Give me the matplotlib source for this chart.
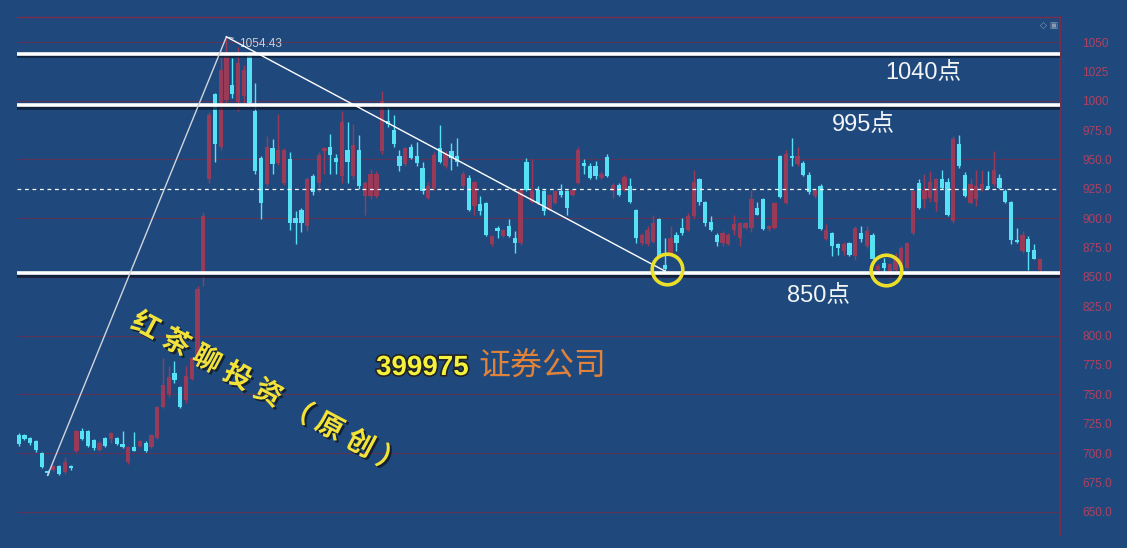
import matplotlib
matplotlib.use('Agg')
import matplotlib.pyplot as plt
import matplotlib.patheffects as pe
from matplotlib.ticker import FixedLocator, FuncFormatter

plt.rcParams['font.family'] = ['Liberation Sans', 'Noto Sans CJK SC', 'DejaVu Sans']

# daily candles (open / high / low / close)
opens = [715, 715, 713, 710, 700, 685, 686, 689, 684, 689,
         702, 719, 719, 711, 703, 713, 712, 713, 708, 692,
         705, 706, 709, 705, 713, 739, 750, 768, 756, 745,
         763, 783, 852, 933, 1006, 961, 1001, 1013, 999, 1004,
         1038, 991, 951, 929, 960, 947, 930, 950, 900, 907,
         893, 936, 930, 957, 961, 951, 936, 958, 936, 958,
         919, 919, 919, 957, 983, 975, 953, 946, 961, 953,
         943, 917, 926, 960, 944, 957, 953, 927, 934, 910,
         912, 913, 878, 892, 885, 893, 883, 879, 948, 914,
         924, 923, 907, 913, 923, 923, 920, 930, 947, 944,
         944, 934, 952, 923, 928, 924, 927, 907, 879, 878,
         880, 899, 860, 869, 886, 892, 890, 902, 933, 914,
         897, 886, 879, 878, 890, 883, 892, 892, 909, 916,
         891, 892, 953, 913, 953, 946, 947, 937, 919, 927,
         882, 887, 878, 872, 879, 868, 887, 876, 886, 856,
         862, 855, 856, 859, 858, 887, 930, 916, 917, 914,
         933, 931, 898, 963, 937, 913, 916, 925, 927, 929,
         934, 923, 914, 881, 872, 882, 873, 856]
highs = [717, 716, 714, 711, 701, 686, 690, 690, 697, 690,
         720, 721, 720, 712, 710, 714, 718, 714, 719, 706,
         718, 711, 710, 716, 740, 781, 774, 778, 757, 774,
         782, 842, 905, 990, 1007, 1043, 1054.43, 1036, 1046, 1030,
         1040, 1015, 953, 970, 967, 989, 960, 956, 906, 909,
         935, 938, 956, 961, 972, 955, 991, 982, 980, 971,
         932, 942, 940, 1008, 995, 988, 958, 961, 963, 965,
         948, 931, 956, 979, 957, 964, 968, 940, 937, 932,
         919, 914, 886, 893, 891, 899, 889, 925, 951, 950,
         927, 924, 921, 924, 929, 924, 925, 961, 950, 947,
         949, 940, 955, 930, 930, 937, 934, 908, 887, 893,
         903, 900, 883, 893, 888, 900, 904, 941, 934, 915,
         902, 887, 889, 887, 903, 897, 897, 924, 914, 917,
         894, 914, 954, 958, 968, 961, 949, 939, 926, 929,
         895, 888, 879, 880, 880, 893, 893, 893, 887, 861,
         866, 862, 870, 876, 880, 924, 933, 938, 940, 934,
         941, 934, 970, 971, 939, 934, 941, 941, 940, 957,
         938, 925, 915, 892, 889, 885, 878, 866]
lows = [706, 711, 707, 701, 687, 681, 685, 681, 682, 686,
        701, 711, 705, 703, 702, 705, 709, 707, 704, 691,
        702, 705, 701, 704, 712, 738, 748, 760, 738, 743,
        762, 781, 842, 930, 948, 958, 998, 1002, 991, 998,
        997, 938, 899, 927, 938, 945, 928, 890, 878, 888,
        889, 920, 922, 938, 938, 938, 930, 930, 933, 925,
        903, 916, 917, 955, 978, 961, 940, 944, 950, 944,
        921, 916, 924, 947, 943, 941, 944, 926, 906, 903,
        903, 885, 876, 883, 884, 884, 870, 877, 923, 913,
        912, 903, 906, 912, 918, 903, 919, 929, 938, 933,
        933, 933, 935, 917, 919, 923, 913, 879, 877, 876,
        879, 867, 855, 868, 872, 886, 889, 900, 911, 893,
        889, 876, 876, 877, 886, 876, 891, 888, 903, 890,
        889, 891, 917, 912, 944, 944, 936, 921, 917, 890,
        881, 868, 869, 869, 868, 864, 880, 875, 865, 855,
        854, 849, 855, 858, 857, 886, 908, 909, 914, 906,
        925, 902, 896, 943, 918, 912, 910, 923, 925, 927,
        925, 913, 878, 879, 870, 856, 865, 855]
closes = [708, 712, 709, 703, 688, 683, 689, 682, 692, 687,
          719, 712, 706, 704, 709, 706, 717, 708, 705, 705,
          702, 710, 702, 715, 739, 758, 765, 762, 739, 766,
          781, 840, 902, 988, 963, 1026, 1038, 1006, 1032, 1026,
          998, 940, 913, 961, 946, 958, 958, 896, 896, 896,
          933, 922, 954, 960, 954, 948, 982, 948, 962, 927,
          930, 938, 938, 1000, 980, 963, 944, 960, 951, 947,
          923, 927, 954, 948, 955, 951, 948, 938, 907, 931,
          906, 886, 885, 889, 890, 885, 879, 924, 924, 923,
          913, 906, 920, 923, 920, 909, 924, 958, 944, 934,
          936, 938, 936, 928, 920, 935, 914, 883, 886, 890,
          896, 868, 857, 883, 879, 887, 902, 931, 914, 896,
          890, 880, 887, 886, 895, 896, 896, 916, 903, 891,
          893, 913, 918, 955, 951, 953, 937, 922, 924, 891,
          890, 876, 875, 878, 869, 892, 882, 889, 865, 859,
          858, 861, 865, 875, 879, 923, 909, 924, 931, 933,
          926, 903, 967, 944, 919, 929, 927, 929, 925, 941,
          926, 914, 881, 880, 886, 871, 865, 865]

support_levels = [1040, 996, 853]
level_labels = ['1040点', '995点', '850点']
mid_level = 925
y_ticks = list(range(650, 1051, 25))
grid_levels = list(range(650, 1051, 50))
start_idx, peak_idx, touch_idx = 5, 36, 112
circle_idx = [112, 150]
watermark = '红茶聊投资（原创）'

BG = '#1f497d'
UP = '#983a58'
DOWN = '#56e2f4'
AXC = '#7c2c4c'
W, H = 1127, 548

fig = plt.figure(figsize=(W / 100, H / 100), dpi=100)
fig.set_facecolor(BG)
ax = fig.add_axes([17 / W, 13 / H, 1043 / W, 518 / H])
ax.set_facecolor(BG)


def frac(px, py):
    # pixel position in the picture -> axes fraction
    return (px - 17) / 1043, (535 - py) / 518


for g in grid_levels:
    ax.axhline(g, color='#5c3458', lw=0.8, zorder=0)

n = len(opens)
xs = list(range(n))
colors = [UP if c >= o else DOWN for o, c in zip(opens, closes)]
ax.vlines(xs, lows, highs, colors=colors, lw=1.0, zorder=2)
bottoms = [min(o, c) for o, c in zip(opens, closes)]
heights = [max(abs(c - o), 0.8) for o, c in zip(opens, closes)]
ax.bar(xs, heights, bottom=bottoms, width=0.74, color=colors, lw=0, zorder=3)

shadow = [pe.SimpleLineShadow(offset=(0.5, -1.8), shadow_color='#0b1a30', alpha=0.8), pe.Normal()]
for lv in support_levels:
    ax.axhline(lv, color='white', lw=2.6, zorder=4, path_effects=shadow)
ax.axhline(mid_level, color='white', lw=0.9, ls=(0, (3, 3)), zorder=4)

# trend lines
ax.plot([start_idx, peak_idx], [lows[start_idx], highs[peak_idx]], color='#cfd4dc', lw=1.0, zorder=5)
ax.plot([peak_idx, touch_idx], [highs[peak_idx], lows[touch_idx]], color='white', lw=1.0, zorder=5)
ax.annotate(f'{highs[peak_idx]:.2f}', xy=(peak_idx, highs[peak_idx]), xytext=(9, -5),
            textcoords='offset points', color='#c9ced6', fontsize=8.5, va='center',
            arrowprops=dict(arrowstyle='-', color='#c9ced6', lw=0.8, ls='--'))

for ci in circle_idx:
    ax.plot(ci + 0.3, lows[ci] + 1.5, 'o', mfc='none', mec='#ecdf2a', ms=22, mew=2.6, zorder=6)

ax.set_xlim(-0.3, n - 1 + 3.5)
ax.set_ylim(1050 - (535 - 42) / 1.1745, 1050 + 25 / 1.1745)

# right axis
ax.yaxis.tick_right()
ax.yaxis.set_major_locator(FixedLocator(y_ticks))
ax.yaxis.set_major_formatter(FuncFormatter(lambda v, p: f'{v:.0f}' if v >= 1000 else f'{v:.1f}'))
ax.tick_params(axis='y', length=0, pad=16, labelsize=8.5, labelcolor='#b0405f')
ax.set_xticks([])
for s in ['left', 'bottom']:
    ax.spines[s].set_visible(False)
ax.spines['right'].set_color(AXC)
ax.spines['right'].set_linewidth(1.3)
ax.spines['top'].set_color(AXC)
ax.spines['top'].set_linewidth(1.0)

# level labels
lab_px = [(923, 72), (863, 124), (818, 295)]
for txt, (px, py) in zip(level_labels, lab_px):
    ax.text(*frac(px, py), txt, transform=ax.transAxes, color='#f2f4f6', fontsize=17,
            ha='center', va='center', zorder=7)

ax.text(*frac(376, 368), '399975', transform=ax.transAxes, color='#f4f23c', fontsize=20,
        fontweight='bold', ha='left', va='center', zorder=7,
        path_effects=[pe.withStroke(linewidth=2.4, foreground='#222222')])
ax.text(*frac(478, 368), '证券公司', transform=ax.transAxes, color='#e0823a', fontsize=23,
        ha='left', va='center', zorder=7)

# slanted watermark, one glyph at a time
x0, y0, x1, y1 = 145, 327, 390, 462
m = len(watermark)
for k, ch in enumerate(watermark):
    t = k / (m - 1)
    ax.text(*frac(x0 + t * (x1 - x0), y0 + t * (y1 - y0)), ch, transform=ax.transAxes,
            color='#f2e23a', fontsize=20, fontweight='bold', rotation=-28,
            ha='center', va='center', zorder=7,
            path_effects=[pe.withSimplePatchShadow(offset=(1.5, -1.5),
                                                   shadow_rgbFace='#101820', alpha=0.8)])

ax.text(*frac(1049, 25), '◇ ▣', transform=ax.transAxes, color='#8c9aae', fontsize=6.5,
        ha='center', va='center', family=['DejaVu Sans'])

fig.savefig('out.png', dpi=100, facecolor=BG)
